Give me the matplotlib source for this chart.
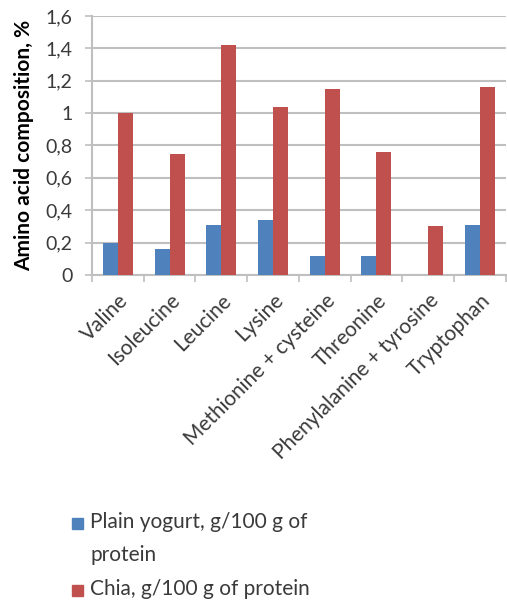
import matplotlib.pyplot as plt
import numpy as np
from matplotlib.ticker import FixedLocator, FuncFormatter
from matplotlib.patches import Rectangle

plt.rcParams['font.family'] = ['Lato', 'DejaVu Sans']

categories = ["Valine", "Isoleucine", "Leucine", "Lysine",
              "Methionine + cysteine", "Threonine",
              "Phenylalanine + tyrosine", "Tryptophan"]
yogurt = [0.20, 0.16, 0.31, 0.34, 0.12, 0.12, 0.0, 0.31]
chia = [1.00, 0.75, 1.42, 1.04, 1.15, 0.76, 0.30, 1.16]
series_labels = ["Plain yogurt, g/100 g of\nprotein", "Chia, g/100 g of protein"]

blue = "#4F81BD"
red = "#C0504D"
grey = "#BFBFBF"
text_col = "#3a3a3a"

W, H = 507, 605
fig = plt.figure(figsize=(W / 100, H / 100), dpi=100)
ax = fig.add_axes([0.1815, 0.5455, 0.816, 0.4281])

x = np.arange(len(categories))
w = 0.29
ax.bar(x - w / 2, yogurt, w, color=blue, zorder=3)
ax.bar(x + w / 2, chia, w, color=red, zorder=3)

ax.set_xlim(-0.5, len(categories) - 0.5)
ax.set_ylim(0, 1.6)
ax.set_yticks(np.arange(0, 1.61, 0.2))
ax.yaxis.set_major_formatter(FuncFormatter(
    lambda v, p: ("%g" % round(v, 1)).replace(".", ",")))
ax.grid(axis="y", color=grey, linewidth=1.5, zorder=0)

# tick marks on category boundaries, labels at centres
ax.xaxis.set_major_locator(FixedLocator(np.arange(-0.5, len(categories), 1.0)))
ax.xaxis.set_minor_locator(FixedLocator(x))
ax.set_xticklabels([], minor=False)
ax.set_xticklabels(categories, minor=True, rotation=45, ha="right",
                   va="top", rotation_mode="anchor", fontsize=15,
                   color=text_col)
ax.tick_params(axis="x", which="minor", length=0, pad=11)
ax.tick_params(axis="x", which="major", length=5, color=grey, width=1.2)
ax.tick_params(axis="y", length=5, color=grey, width=1.2, labelsize=14,
               labelcolor=text_col, pad=9)

for s in ["top", "right"]:
    ax.spines[s].set_visible(False)
for s in ["left", "bottom"]:
    ax.spines[s].set_color(grey)
    ax.spines[s].set_linewidth(1.5)

ax.set_ylabel("Amino acid composition, %", fontsize=15, fontweight="bold",
              color="black", labelpad=8)

# legend drawn below the plot, first entry aligned to its first text line
colors = [blue, red]
y_rows = [523, 590]
for c, lab, yy in zip(colors, series_labels, y_rows):
    fig.patches.append(Rectangle((72 / W, 1 - (yy + 5.5) / H), 11 / W, 11 / H,
                                 color=c, transform=fig.transFigure))
    fig.text(90 / W, 1 - (yy - 11) / H, lab, fontsize=15, color=text_col,
             va="top", ha="left", linespacing=1.8)

fig.savefig("out.png", dpi=100)
